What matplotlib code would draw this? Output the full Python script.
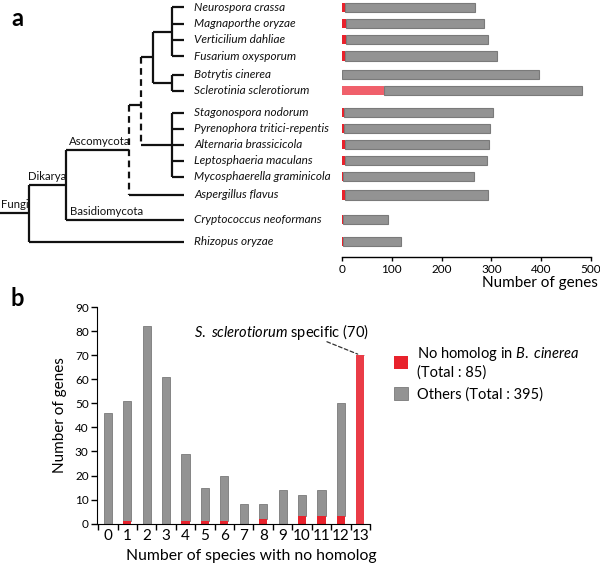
import numpy as np
import matplotlib
matplotlib.use('Agg')
import matplotlib.pyplot as plt

plt.rcParams['font.family'] = ['Lato', 'DejaVu Sans']
plt.rcParams['mathtext.fontset'] = 'custom'
plt.rcParams['mathtext.rm'] = 'Lato'
plt.rcParams['mathtext.it'] = 'Lato:italic'

# panel a data
species = ['Neurospora crassa', 'Magnaporthe oryzae', 'Verticilium dahliae',
           'Fusarium oxysporum', 'Botrytis cinerea', 'Sclerotinia sclerotiorum',
           'Stagonospora nodorum', 'Pyrenophora tritici-repentis',
           'Alternaria brassicicola', 'Leptosphaeria maculans',
           'Mycosphaerella graminicola', 'Aspergillus flavus',
           'Cryptococcus neoformans', 'Rhizopus oryzae']
total_genes = [268, 286, 294, 312, 396, 482, 304, 298, 296, 292, 266, 294, 92, 118]
no_homolog_genes = [7, 9, 9, 7, 0, 85, 4, 4, 7, 7, 3, 7, 3, 3]

# panel b data
n_species = list(range(14))
total_b = [46, 51, 82, 61, 29, 15, 20, 8, 8, 14, 12, 14, 50, 70]
red_b = [0, 1, 0, 0, 1, 1, 1, 0, 2, 0, 3, 3, 3, 70]

W, H = 600, 569
fig = plt.figure(figsize=(W / 100, H / 100), dpi=100)

RED = '#e8222c'
GRAY = '#939393'
GRAY_EDGE = '#7a7a7a'

# row positions for tree and bars (pixel coordinates)
row_y = [7.3, 23.7, 39.5, 56, 74.7, 90.7, 112.7, 128.7, 144.7, 160.7,
         176.7, 195, 219.5, 241.7]

top_h = 257
# ---- tree ----
tree = fig.add_axes([0, 1 - top_h / H, 342 / W, top_h / H])
tree.set_xlim(0, 342)
tree.set_ylim(top_h, 0)
tree.axis('off')

lw = 1.6
kw = dict(color='#111111', lw=lw, solid_capstyle='butt')
leaf_x = 184
# leaves
for i, y in enumerate(row_y):
    if i < 11:
        x0 = 172
    elif i == 11:
        x0 = 129
    elif i == 12:
        x0 = 66
    else:
        x0 = 29
    if i == 8:
        x0 = 141
    tree.plot([x0, leaf_x], [y, y], **kw)
    tree.text(leaf_x + 10, y, species[i], style='italic', fontsize=8.5,
              va='center', ha='left', color='#111111')

# sordariomycetes node
tree.plot([172, 172], [row_y[0], row_y[3]], **kw)
mid1 = (row_y[0] + row_y[3]) / 2
tree.plot([153, 172], [mid1, mid1], **kw)
# leotiomycetes node
tree.plot([172, 172], [row_y[4], row_y[5]], **kw)
mid2 = (row_y[4] + row_y[5]) / 2
tree.plot([153, 172], [mid2, mid2], **kw)
tree.plot([153, 153], [mid1, mid2], **kw)
tree.plot([141, 153], [57, 57], **kw)
# dothideomycetes node
tree.plot([172, 172], [row_y[6], row_y[10]], **kw)
# uncertain placements (dashed)
tree.plot([141, 141], [57, row_y[8]], color='#111111', lw=lw, ls=(0, (3, 2)))
tree.plot([129, 141], [105, 105], **kw)
tree.plot([129, 129], [105, row_y[11]], color='#111111', lw=lw, ls=(0, (3, 2)))
# ascomycota / dikarya / fungi
tree.plot([66, 129], [150, 150], **kw)
tree.plot([66, 66], [150, row_y[12]], **kw)
tree.plot([29, 66], [185, 185], **kw)
tree.plot([29, 29], [185, row_y[13]], **kw)
tree.plot([0, 29], [213, 213], **kw)

lab = dict(fontsize=8.2, ha='left', va='bottom', color='#111111')
tree.text(69, 147, 'Ascomycota', **lab)
tree.text(70, 217, 'Basidiomycota', **lab)
tree.text(28, 182, 'Dikarya', **lab)
tree.text(1, 210, 'Fungi', **lab)
tree.text(11, 19, 'a', fontsize=17, fontweight='bold', va='center', ha='left')

# ---- bars a ----
axa = fig.add_axes([342 / W, 1 - top_h / H, (591 - 342) / W, top_h / H])
axa.set_xlim(0, 500)
axa.set_ylim(top_h, 0)
others = [t - r for t, r in zip(total_genes, no_homolog_genes)]
axa.barh(row_y, others, left=no_homolog_genes, height=9.5, color=GRAY,
         edgecolor=GRAY_EDGE, lw=0.8)
red_cols = [RED] * len(species)
red_cols[5] = '#f0606b'
axa.barh(row_y, no_homolog_genes, height=9.5, color=red_cols, lw=0)
for s in ['top', 'right', 'left']:
    axa.spines[s].set_visible(False)
axa.spines['bottom'].set_linewidth(1.0)
axa.set_yticks([])
axa.set_xticks([0, 100, 200, 300, 400, 500])
axa.tick_params(axis='x', length=3, width=1, labelsize=8.5, pad=2)
axa.set_xlabel('Number of genes', fontsize=11)
axa.xaxis.set_label_coords(1.028, -0.072)
axa.xaxis.label.set_ha('right')

# ---- panel b ----
axb = fig.add_axes([97 / W, (H - 523.7) / H, (370 - 97) / W, (523.7 - 307) / H])
others_b = [t - r for t, r in zip(total_b, red_b)]
axb.bar(n_species, others_b, bottom=red_b, width=0.42, color=GRAY,
        edgecolor=GRAY_EDGE, lw=0.6, label='Others (Total : 395)')
red_colors_b = [RED] * 13 + ['#ea3c47']
axb.bar(n_species, red_b, width=0.42, color=red_colors_b, lw=0,
        label='No homolog in $\\it{B.\\ cinerea}$\n(Total : 85)')
axb.set_xlim(-0.56, 13.5)
axb.set_ylim(0, 90)
axb.set_yticks(range(0, 91, 10))
axb.set_xticks(n_species)
axb.set_xticks(np.arange(-0.5, 13.6, 1), minor=True)
axb.tick_params(axis='x', which='major', length=0, labelsize=11, pad=4)
axb.tick_params(axis='x', which='minor', length=4, width=1)
axb.tick_params(axis='y', length=4, width=1, labelsize=8.5, pad=2)
for s in ['top', 'right']:
    axb.spines[s].set_visible(False)
axb.set_ylabel('Number of genes', fontsize=11, labelpad=6)
axb.set_xlabel('Number of species with no homolog', fontsize=11.3)
axb.xaxis.set_label_coords(1.026, -0.115)
axb.xaxis.label.set_ha('right')

axb.annotate('', xy=(13, 70), xytext=(11.15, 76),
             arrowprops=dict(arrowstyle='-', ls=(0, (3, 2)), color='#333333', lw=0.9))
axb.text(13.45, 79.5, '$\\it{S.\\ sclerotiorum}$ specific (70)', fontsize=10.5,
         ha='right', va='center')

handles, labels = axb.get_legend_handles_labels()
leg = fig.legend(handles[::-1], labels[::-1], loc='upper left',
                 bbox_to_anchor=(388 / W, 1 - 339 / H), frameon=False,
                 fontsize=10.5, handlelength=1.0, handleheight=1.0,
                 handletextpad=0.6, labelspacing=0.5, borderaxespad=0)

fig.text(11 / W, 1 - 298 / H, 'b', fontsize=17, fontweight='bold', va='center',
         ha='left')

fig.savefig('out.png', dpi=100)
